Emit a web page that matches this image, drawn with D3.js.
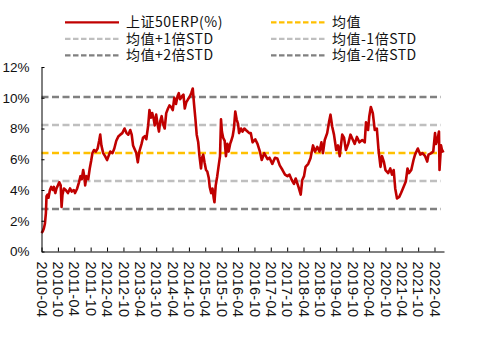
<!DOCTYPE html>
<html>
<head>
<meta charset="utf-8">
<script src="https://cdn.jsdelivr.net/npm/d3@7"></script>
<style>
  body { margin: 0; background: #fff; }
  svg { display: block; }
</style>
</head>
<body>
<svg id="chart" width="502" height="342"></svg>
<script>
// SSE 50 equity risk premium (%), sampled observations
const dates = [
  "2010-04-01","2010-04-14","2010-04-27","2010-05-09","2010-05-20","2010-05-27","2010-06-08","2010-06-18",
  "2010-07-04","2010-07-18","2010-08-04","2010-08-17","2010-09-02","2010-09-15","2010-10-01","2010-10-16",
  "2010-11-01","2010-11-11","2010-11-21","2010-12-07","2010-12-27","2011-01-21","2011-02-13","2011-03-04",
  "2011-03-27","2011-04-10","2011-05-04","2011-05-24","2011-06-10","2011-06-24","2011-07-10","2011-07-24",
  "2011-08-01","2011-08-16","2011-09-04","2011-09-21","2011-10-07","2011-10-21","2011-11-07","2011-11-27",
  "2011-12-18","2012-01-04","2012-01-16","2012-01-29","2012-02-18","2012-03-10","2012-04-01","2012-04-24",
  "2012-05-07","2012-06-01","2012-06-21","2012-07-13","2012-08-07","2012-08-27","2012-09-18","2012-10-13",
  "2012-11-04","2012-11-24","2012-12-16","2013-01-01","2013-01-16","2013-02-07","2013-02-21","2013-03-10",
  "2013-03-27","2013-04-21","2013-05-07","2013-05-27","2013-06-13","2013-07-04","2013-07-18","2013-08-04",
  "2013-08-18","2013-09-04","2013-09-15","2013-10-01","2013-10-16","2013-11-01","2013-11-16","2013-12-01",
  "2013-12-16","2014-01-04","2014-01-21","2014-02-10","2014-02-26","2014-03-16","2014-04-04","2014-04-21",
  "2014-05-10","2014-05-27","2014-06-10","2014-06-24","2014-07-16","2014-08-01","2014-08-16","2014-09-01",
  "2014-09-21","2014-10-13","2014-10-27","2014-11-13","2014-11-27","2014-12-13","2014-12-27","2015-01-13",
  "2015-01-27","2015-02-13","2015-02-24","2015-03-10","2015-03-24","2015-04-10","2015-04-24","2015-05-10",
  "2015-05-21","2015-06-07","2015-06-21","2015-07-04","2015-07-13","2015-07-27","2015-08-13","2015-08-27",
  "2015-09-13","2015-09-24","2015-10-04","2015-10-18","2015-11-04","2015-11-18","2015-12-04","2015-12-18",
  "2016-01-04","2016-01-16","2016-02-01","2016-02-15","2016-03-01","2016-03-16","2016-04-01","2016-04-13",
  "2016-05-04","2016-05-21","2016-06-10","2016-06-27","2016-07-16","2016-08-04","2016-08-21","2016-09-10",
  "2016-10-10","2016-11-04","2016-12-01","2016-12-21","2017-01-18","2017-02-24","2017-03-18","2017-04-18",
  "2017-05-18","2017-06-13","2017-07-10","2017-08-10","2017-09-07","2017-10-04","2017-10-27","2017-11-21",
  "2017-12-16","2018-01-04","2018-02-04","2018-03-01","2018-03-18","2018-04-07","2018-04-24","2018-05-24",
  "2018-06-18","2018-07-16","2018-08-07","2018-09-01","2018-09-27","2018-10-18","2018-11-04","2018-11-24",
  "2018-12-21","2019-01-10","2019-01-27","2019-02-16","2019-03-07","2019-04-01","2019-04-21","2019-05-10",
  "2019-06-07","2019-06-27","2019-07-18","2019-08-13","2019-09-07","2019-10-04","2019-10-24","2019-11-18",
  "2019-12-16","2020-01-16","2020-02-13","2020-02-27","2020-03-21","2020-04-04","2020-04-21","2020-05-13",
  "2020-06-04","2020-06-27","2020-07-16","2020-08-07","2020-08-24","2020-09-13","2020-10-01","2020-11-01",
  "2020-11-24","2020-12-13","2021-01-01","2021-01-18","2021-02-07","2021-03-04","2021-03-24","2021-04-21",
  "2021-05-16","2021-06-04","2021-06-21","2021-07-16","2021-08-10","2021-08-27","2021-09-27","2021-10-24",
  "2021-11-18","2021-12-18","2022-01-10","2022-01-24","2022-02-24","2022-03-18","2022-04-07","2022-04-18",
  "2022-05-07","2022-05-21","2022-05-27","2022-06-13","2022-06-27","2022-07-16"
];
const erp = [
  1.2,1.3,1.5,1.8,2.5,3.6,3.7,3.5,
  4.0,4.2,4.0,4.2,3.8,4.1,4.3,4.5,
  4.3,2.9,3.7,4.1,4.0,3.8,4.1,3.9,
  4.0,3.8,4.1,4.5,4.9,4.7,5.3,4.8,
  4.3,4.9,4.7,5.4,5.9,6.4,6.6,6.5,
  6.7,7.2,7.6,6.9,6.4,6.2,5.95,6.3,
  6.5,6.4,6.7,7.2,7.5,7.6,7.7,8.0,
  7.7,7.6,7.9,7.6,6.9,6.6,6.4,5.8,
  6.5,7.0,7.4,7.5,7.3,8.2,9.2,8.7,
  9.0,8.6,8.2,8.9,8.3,7.8,8.5,8.8,
  8.3,8.0,9.0,9.3,9.5,9.4,9.2,10.0,
  9.6,10.1,10.3,9.9,10.1,10.2,9.3,9.7,
  9.9,10.1,10.3,10.6,9.6,8.6,7.6,7.1,
  6.2,5.4,6.1,6.3,5.8,5.3,5.2,4.8,
  4.2,3.8,4.1,3.5,3.2,4.3,4.9,5.5,
  6.2,8.6,7.8,7.4,7.2,6.2,7.0,6.5,
  7.0,7.2,7.5,8.0,9.1,8.6,8.3,7.7,
  8.0,7.8,8.0,7.9,7.8,7.7,7.7,7.1,
  7.3,7.0,6.5,5.95,6.4,6.0,6.1,5.7,
  6.1,6.05,5.6,5.3,5.0,4.9,5.0,4.65,
  4.4,4.75,4.2,3.7,4.65,4.9,5.5,5.7,
  6.06,6.9,6.5,6.8,6.5,7.1,6.4,7.25,
  7.7,8.4,8.9,8.1,7.6,6.6,6.9,6.2,
  7.6,7.4,6.6,7.0,7.6,7.25,7.0,7.45,
  7.1,7.25,7.1,8.4,7.9,8.8,9.4,9.0,
  7.9,8.0,6.6,5.5,6.2,5.85,5.3,5.1,
  5.4,5.0,5.3,4.1,3.45,3.55,3.8,4.2,
  4.55,5.4,5.1,5.3,5.95,6.3,6.7,6.3,
  6.4,6.2,5.85,6.3,6.4,6.5,7.7,7.0,
  7.35,7.8,5.3,6.9,6.5,6.55
];

// Full-sample statistics of the series
const meanVal = 6.41;
const stdVal = 1.82;

const yTicks = [0, 2, 4, 6, 8, 10, 12];
const xTickLabels = [
  "2010-04","2010-10","2011-04","2011-10","2012-04","2012-10","2013-04","2013-10",
  "2014-04","2014-10","2015-04","2015-10","2016-04","2016-10","2017-04","2017-10",
  "2018-04","2018-10","2019-04","2019-10","2020-04","2020-10","2021-04","2021-10","2022-04"
];

const seriesNames = ["上证50ERP(%)", "均值", "均值+1倍STD", "均值-1倍STD", "均值+2倍STD", "均值-2倍STD"];
const colors = { erp: "#C00000", mean: "#FFC000", std1: "#BFBFBF", std2: "#808080" };

const parseDay = d3.timeParse("%Y-%m-%d");
const parseMonth = d3.timeParse("%Y-%m");
const fmtMonth = d3.timeFormat("%Y-%m");

const data = dates.map((d, i) => ({ date: parseDay(d), value: erp[i] }));

const svg = d3.select("#chart");
const plot = { left: 41.5, right: 444, top: 67, bottom: 251.5 };

const x = d3.scaleTime()
  .domain([parseMonth(xTickLabels[0]), data[data.length - 1].date])
  .range([plot.left, plot.right]);
const y = d3.scaleLinear().domain([0, 12]).range([plot.bottom, plot.top]);

// Reference levels: mean and ±1 / ±2 standard deviations
const bands = [
  { k: 1, color: colors.std1 }, { k: -1, color: colors.std1 },
  { k: 2, color: colors.std2 }, { k: -2, color: colors.std2 },
  { k: 0, color: colors.mean }
];
const xStart = x.domain()[0], xEnd = data[data.length - 1].date;
svg.append("g").selectAll("line").data(bands).join("line")
  .attr("x1", x(xStart)).attr("x2", x(xEnd) - 3)
  .attr("y1", d => y(meanVal + d.k * stdVal))
  .attr("y2", d => y(meanVal + d.k * stdVal))
  .attr("stroke", d => d.color)
  .attr("stroke-width", 2.5)
  .attr("stroke-dasharray", "7,3.5");

// ERP series
svg.append("path")
  .datum(data)
  .attr("fill", "none")
  .attr("stroke", colors.erp)
  .attr("stroke-width", 2.6)
  .attr("stroke-linejoin", "round")
  .attr("d", d3.line().x(d => x(d.date)).y(d => y(d.value)));

// Y axis
const yAxis = svg.append("g")
  .attr("transform", `translate(${plot.left},0)`)
  .call(d3.axisLeft(y).tickValues(yTicks).tickSize(-3).tickSizeOuter(0).tickPadding(12)
    .tickFormat(d => d + "%"));
yAxis.select(".domain").attr("stroke", "#000").attr("stroke-width", 1);
yAxis.selectAll(".tick line").attr("stroke", "#000");
yAxis.selectAll("text")
  .attr("font-family", "'Liberation Sans', Arial, sans-serif")
  .attr("font-size", 13.5)
  .attr("fill", "#111");

// X axis
const xAxis = svg.append("g")
  .attr("transform", `translate(0,${plot.bottom})`)
  .call(d3.axisBottom(x).tickValues(xTickLabels.map(parseMonth)).tickSize(-4).tickSizeOuter(0)
    .tickFormat(fmtMonth));
xAxis.select(".domain").attr("stroke", "#000").attr("stroke-width", 1);
xAxis.selectAll(".tick line").attr("stroke", "#000");
xAxis.selectAll("text")
  .attr("font-family", "'Liberation Sans', Arial, sans-serif")
  .attr("font-size", 14.5)
  .attr("letter-spacing", 0.4)
  .attr("fill", "#111")
  .attr("y", 0)
  .attr("x", 10)
  .attr("dy", "0.36em")
  .attr("transform", "rotate(90)")
  .style("text-anchor", "start");

// Legend
const legendItems = [
  { name: seriesNames[0], color: colors.erp, dash: null, col: 0, row: 0 },
  { name: seriesNames[1], color: colors.mean, dash: "5.5,2.5", col: 1, row: 0 },
  { name: seriesNames[2], color: colors.std1, dash: "5.5,2.5", col: 0, row: 1 },
  { name: seriesNames[3], color: colors.std1, dash: "5.5,2.5", col: 1, row: 1 },
  { name: seriesNames[4], color: colors.std2, dash: "5.5,2.5", col: 0, row: 2 },
  { name: seriesNames[5], color: colors.std2, dash: "5.5,2.5", col: 1, row: 2 }
];
const colX = [65, 271], rowY = [22.3, 38.8, 55.3];
const lg = svg.append("g").selectAll("g").data(legendItems).join("g")
  .attr("transform", d => `translate(${colX[d.col]},${rowY[d.row]})`);
lg.append("line")
  .attr("x1", 0).attr("x2", 54)
  .attr("stroke", d => d.color)
  .attr("stroke-width", 2.2)
  .attr("stroke-dasharray", d => d.dash);
lg.append("text")
  .attr("x", 61).attr("dy", "0.36em")
  .attr("font-family", "'Noto Sans CJK SC', sans-serif")
  .attr("font-size", 14)
  .attr("letter-spacing", 0.5)
  .attr("fill", "#111")
  .text(d => d.name);
</script>
</body>
</html>
